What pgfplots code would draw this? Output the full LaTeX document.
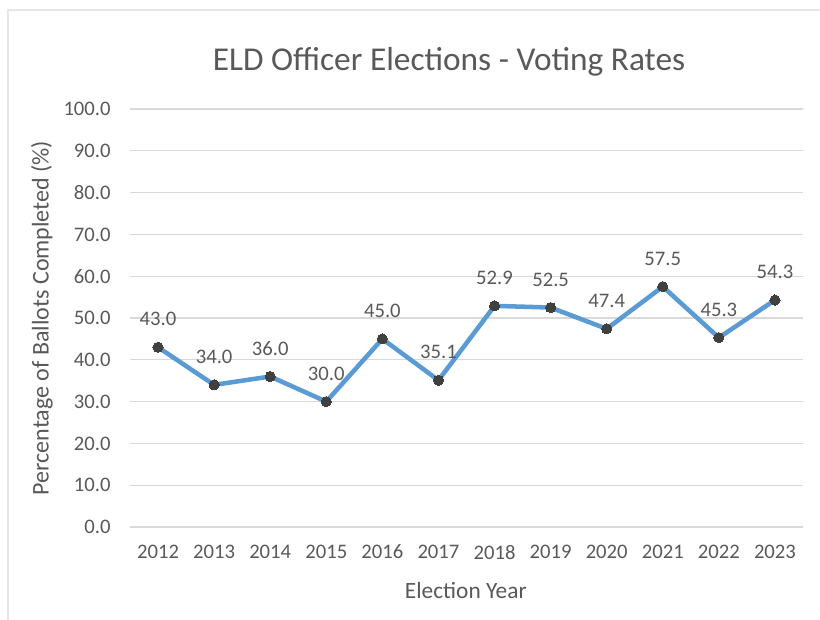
\documentclass[border=0pt]{standalone}
\usepackage{fontspec}
\setmainfont{Carlito}
\usepackage{pgfplots}
\pgfplotsset{compat=1.18}
\definecolor{linec}{HTML}{5B9BD5}
\definecolor{markc}{HTML}{404040}
\definecolor{txt}{HTML}{595959}
\definecolor{gridc}{HTML}{D9D9D9}
\definecolor{borderc}{HTML}{E6E6E6}
\begin{document}
\begin{tikzpicture}[x=0.75pt,y=0.75pt]
\path[use as bounding box] (0,0) rectangle (820,620);
\draw[borderc, line width=1pt] (8,0) -- (8,610) -- (820,610);
\begin{axis}[
  at={(97.5pt,69.75pt)}, anchor=south west,
  scale only axis, width=504.75pt, height=313.5pt,
  xmin=-0.5, xmax=11.5, ymin=0, ymax=100,
  xtick={0,...,11},
  xticklabels={2012,2013,2014,2015,2016,2017,2018,2019,2020,2021,2022,2023},
  ytick={0,10,...,100},
  axis line style={draw=none},
  major tick length=0pt,
  ymajorgrids, grid style={gridc, line width=0.8pt},
  /pgf/number format/assume math mode=true,
  /pgf/number format/fixed, /pgf/number format/fixed zerofill, /pgf/number format/precision=1,
  ticklabel style={font=\fontsize{15.5}{18}\selectfont, text=txt},
  xticklabel style={yshift=-10pt},
  yticklabel style={xshift=-11pt},
  title={ELD Officer Elections - Voting Rates},
  title style={at={(axis description cs:0.474,1.117)}, anchor=center, yshift=-7pt, font=\fontsize{25}{30}\selectfont, text=txt},
  xlabel={Election Year},
  xlabel style={at={(axis description cs:0.499,-0.153)}, anchor=center, font=\fontsize{17.5}{20}\selectfont, text=txt},
  ylabel={Percentage of Ballots Completed (\%)},
  ylabel style={at={(axis description cs:-0.1308,0.5)}, anchor=center, rotate=0, font=\fontsize{18}{21}\selectfont, text=txt},
  nodes near coords,
  every node near coord/.append style={anchor=center, yshift=21pt, font=\fontsize{15.5}{18}\selectfont, text=txt},
  clip=false,
]
\addplot[linec, line width=3.4pt, mark=*, mark size=3.8pt, mark options={fill=markc, draw=markc, line width=0pt}]
  coordinates {(0,43.0) (1,34.0) (2,36.0) (3,30.0) (4,45.0) (5,35.1) (6,52.9) (7,52.5) (8,47.4) (9,57.5) (10,45.3) (11,54.3)};
\end{axis}
\end{tikzpicture}
\end{document}
